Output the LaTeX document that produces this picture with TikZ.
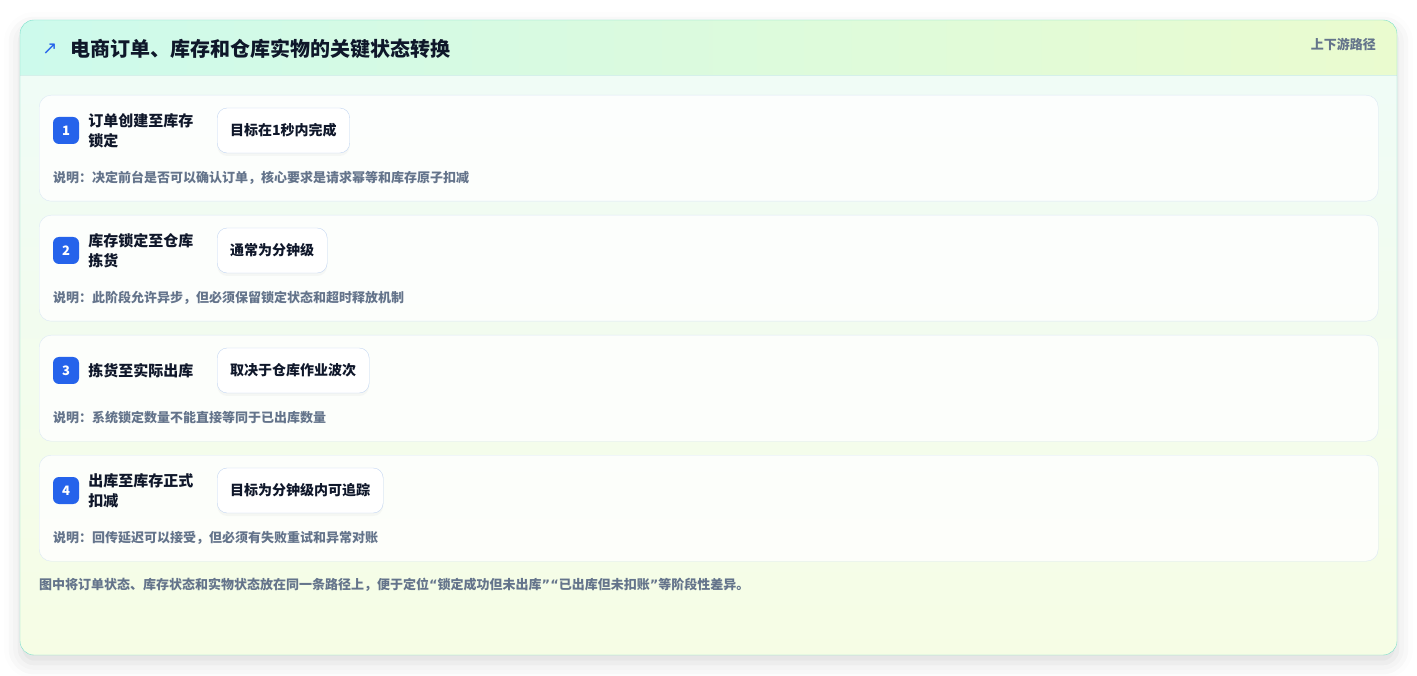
\documentclass[tikz,border=0pt]{standalone}
\usepackage{fontspec}
\setmainfont{Noto Sans CJK SC}
\newfontfamily\symbfont{DejaVu Sans}
\usetikzlibrary{positioning,shadows,shadows.blur}

\definecolor{ink}{HTML}{0F172A}
\definecolor{notegray}{HTML}{64748B}
\definecolor{badgeblue}{HTML}{2563EB}
\definecolor{cardedge}{HTML}{7ADFCB}
\definecolor{cardline}{HTML}{DCE8F5}
\definecolor{pillline}{HTML}{C3D6F2}
\definecolor{headL}{HTML}{CDFAEC}
\definecolor{headR}{HTML}{EAFBCF}
\definecolor{bodyT}{HTML}{EFFCF8}
\definecolor{bodyB}{HTML}{F6FDE5}
\definecolor{sepline}{HTML}{D5F0EA}

% narrow quotes for the footer
\newcommand{\openq}{{\symbfont “}}
\newcommand{\closeq}{{\symbfont ”}}

\begin{document}
\begin{tikzpicture}[x=1pt,y=-1pt,
    stepcard/.style={draw=cardline, fill=white, fill opacity=.8, text opacity=1,
      rounded corners=12pt, minimum width=1339pt, minimum height=106pt,
      anchor=north west, inner sep=0pt},
    badge/.style={fill=badgeblue, rounded corners=6pt, minimum width=26pt,
      minimum height=27pt, inner sep=0pt, text=white,
      font=\bfseries\fontsize{13}{15}\selectfont},
    steptitle/.style={align=left, inner sep=0pt, text=ink,
      font=\bfseries\fontsize{15}{20}\selectfont},
    pill/.style={draw=pillline, fill=white, rounded corners=10pt,
      minimum height=45pt, inner xsep=13pt, anchor=west, text=ink,
      font=\bfseries\fontsize{14}{16}\selectfont,
      drop shadow={shadow xshift=0pt, shadow yshift=-3pt, opacity=.05}},
    note/.style={anchor=west, inner sep=0pt, text=notegray,
      font=\bfseries\fontsize{13}{15}\selectfont}]
    \useasboundingbox (0,0) rectangle (1417,676);
    % outer card with soft shadow
    \path[rounded corners=14pt, top color=bodyT, bottom color=bodyB,
      blur shadow={shadow xshift=0pt, shadow yshift=-8pt,
        shadow blur radius=16pt, shadow opacity=14}]
      (20,20) rectangle (1397,655);
    % header band
    \begin{scope}
      \clip[rounded corners=14pt] (20,20) rectangle (1397,655);
      \shade[left color=headL, right color=headR] (20,20) rectangle (1397,75);
    \end{scope}
    \draw[sepline] (20,75) -- (1397,75);
    \draw[cardedge, rounded corners=14pt] (20,20) rectangle (1397,655);
    \node[text=badgeblue, inner sep=0pt, font=\symbfont\fontsize{18}{18}\selectfont]
      (icon) at (50,49) {↗};
    \node[anchor=west, inner sep=0pt, text=ink,
      font=\bfseries\fontsize{20}{22}\selectfont]
      (heading) at (70,49) {电商订单、库存和仓库实物的关键状态转换};
    \node[anchor=east, inner sep=0pt, text=notegray,
      font=\bfseries\fontsize{13}{15}\selectfont]
      (route) at (1376,44) {上下游路径};
    % the four transition cards
    \foreach \i/\ttl/\pil/\nt in {%
      1/{订单创建至库存\\锁定}/目标在1秒内完成/说明：决定前台是否可以确认订单，核心要求是请求幂等和库存原子扣减,
      2/{库存锁定至仓库\\拣货}/通常为分钟级/说明：此阶段允许异步，但必须保留锁定状态和超时释放机制,
      3/{拣货至实际出库}/取决于仓库作业波次/说明：系统锁定数量不能直接等同于已出库数量,
      4/{出库至库存正式\\扣减}/目标为分钟级内可追踪/说明：回传延迟可以接受，但必须有失败重试和异常对账}{
      \pgfmathsetmacro{\top}{95+120*(\i-1)}
      \node[stepcard] (card\i) at (39,\top) {};
      \node[badge] (badge\i) at (66,\top+35.5) {\i};
      \node[steptitle, right=9pt of badge\i] (title\i) {\ttl};
      \node[pill] (pill\i) at (217,\top+35.5) {\pil};
      \node[note] (note\i) at (53,\top+83) {\nt};
    }
    \node[anchor=west, inner sep=0pt, text=notegray,
      font=\bfseries\fontsize{13}{15}\selectfont]
      (footer) at (39,585) {图中将订单状态、库存状态和实物状态放在同一条路径上，便于定位\openq 锁定成功但未出库\closeq\openq 已出库但未扣账\closeq 等阶段性差异。};
\end{tikzpicture}
\end{document}
